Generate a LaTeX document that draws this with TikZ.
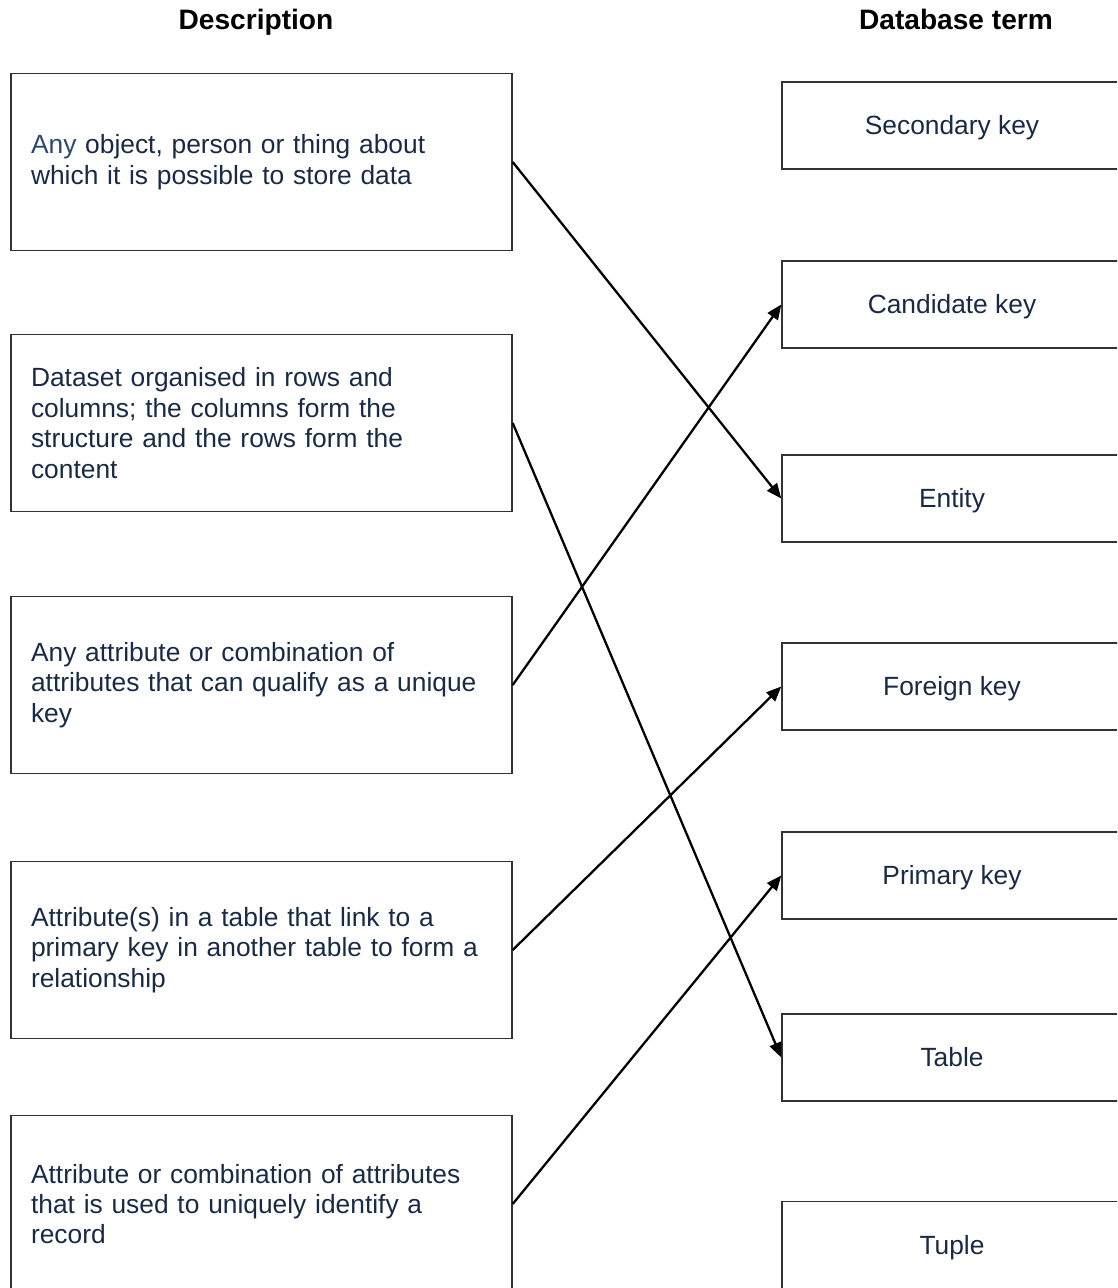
\documentclass[tikz,border=0pt]{standalone}
\usepackage{fontspec}
\setmainfont{Liberation Sans}
\usetikzlibrary{arrows.meta}

\definecolor{inkblue}{RGB}{24,42,70}
\definecolor{anyblue}{RGB}{44,72,112}

\tikzset{
    desc/.style={rectangle,draw=black!80,line width=0.85pt,minimum width=10.02cm,
        minimum height=3.54cm,text width=9.22cm,inner xsep=0.4cm,align=left,
        text=inkblue,font=\fontsize{15}{17.3}\selectfont},
    term/.style={rectangle,draw=black!80,line width=0.85pt,minimum width=6.8cm,
        minimum height=1.74cm,text height=10.7pt,text depth=0pt,
        text=inkblue,font=\fontsize{15}{17.3}\selectfont},
    head/.style={anchor=base,font=\fontsize{16}{19}\selectfont\bfseries},
    match/.style={->,line width=1.3pt}
}

\begin{document}
\begin{tikzpicture}[x=0.02cm,y=-0.02cm,>={Triangle[length=8.5pt,width=7pt]}]
            \clip (0,0) rectangle (1117,1288);

            % column headings
            \node[head] (hd) at (256, 30) {Description};
            \node[head] (ht) at (956, 30) {Database term};

            % descriptions
            \node[desc] (d1) at (261.5, 162) {\textcolor{anyblue}{Any} object, person or thing about\\which it is possible to store data};
            \node[desc] (d2) at (261.5, 423) {Dataset organised in rows and\\columns; the columns form the\\structure and the rows form the\\content};
            \node[desc] (d3) at (261.5, 685) {Any attribute or combination of\\attributes that can qualify as a unique\\key};
            \node[desc] (d4) at (261.5, 950) {Attribute(s) in a table that link to a\\primary key in another table to form a\\relationship};
            \node[desc] (d5) at (261.5, 1204) {Attribute or combination of attributes\\that is used to uniquely identify a\\record};

            % database terms
            \node[term] (t1) at (952, 125.5) {Secondary key};
            \node[term] (t2) at (952, 304.5) {Candidate key};
            \node[term] (t3) at (952, 498.5) {Entity};
            \node[term] (t4) at (952, 686.5) {Foreign key};
            \node[term] (t5) at (952, 875.5) {Primary key};
            \node[term] (t6) at (952, 1057.5) {Table};
            \node[term] (t7) at (952, 1245) {Tuple};

            % matches
            \draw[match] (d1.east) -- (t3.west);
            \draw[match] (d2.east) -- (t6.west);
            \draw[match] (d3.east) -- (t2.west);
            \draw[match] (d4.east) -- (t4.west);
            \draw[match] (d5.east) -- (t5.west);

\end{tikzpicture}
\end{document}
